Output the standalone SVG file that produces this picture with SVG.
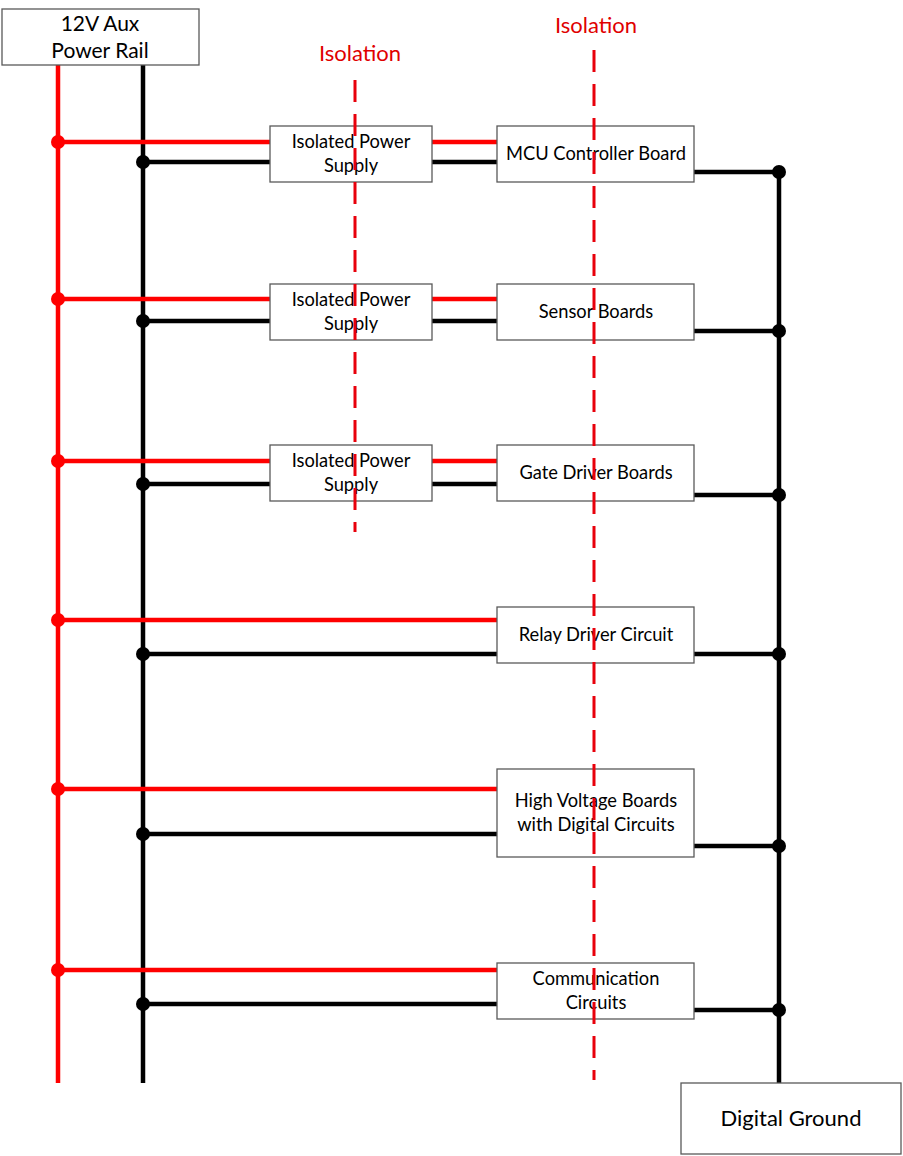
<svg xmlns="http://www.w3.org/2000/svg" width="903" height="1156" viewBox="0 0 903 1156">
<style>
.box{fill:#fff;stroke:#595959;stroke-width:1.3}
.t{font-family:Lato,"Liberation Sans",sans-serif;font-size:18.3px;fill:#000;text-anchor:middle}
.tb{font-family:Lato,"Liberation Sans",sans-serif;font-size:21px;fill:#000;text-anchor:middle}
.tg{font-family:Lato,"Liberation Sans",sans-serif;font-size:22px;fill:#000;text-anchor:middle}
.iso{font-family:Lato,"Liberation Sans",sans-serif;font-size:22px;fill:#e00000;text-anchor:middle}
.r{stroke:#ff0000;stroke-width:4.5;fill:none}
.k{stroke:#000;stroke-width:4.5;fill:none}
.dr{fill:#ff0000}
.dk{fill:#000}
.dash{stroke:#e8000b;stroke-width:3;stroke-dasharray:22 12;fill:none}
</style>
<rect width="903" height="1156" fill="#fff"/>
<g id="connectors">
<line class="r" x1="58" y1="65" x2="58" y2="1083"/>
<line class="k" x1="143" y1="65" x2="143" y2="1083"/>
<line class="k" x1="779" y1="172" x2="779" y2="1083"/>
<line class="r" x1="58" y1="142" x2="270" y2="142"/>
<line class="k" x1="143" y1="162" x2="270" y2="162"/>
<line class="r" x1="432" y1="142" x2="497" y2="142"/>
<line class="k" x1="432" y1="162" x2="497" y2="162"/>
<line class="k" x1="694" y1="172" x2="779" y2="172"/>
<line class="r" x1="58" y1="299" x2="270" y2="299"/>
<line class="k" x1="143" y1="321" x2="270" y2="321"/>
<line class="r" x1="432" y1="299" x2="497" y2="299"/>
<line class="k" x1="432" y1="321" x2="497" y2="321"/>
<line class="k" x1="694" y1="331" x2="779" y2="331"/>
<line class="r" x1="58" y1="461" x2="270" y2="461"/>
<line class="k" x1="143" y1="484" x2="270" y2="484"/>
<line class="r" x1="432" y1="461" x2="497" y2="461"/>
<line class="k" x1="432" y1="484" x2="497" y2="484"/>
<line class="k" x1="694" y1="495" x2="779" y2="495"/>
<line class="r" x1="58" y1="620" x2="497" y2="620"/>
<line class="k" x1="143" y1="654" x2="497" y2="654"/>
<line class="k" x1="694" y1="654" x2="779" y2="654"/>
<line class="r" x1="58" y1="789" x2="497" y2="789"/>
<line class="k" x1="143" y1="834" x2="497" y2="834"/>
<line class="k" x1="694" y1="846" x2="779" y2="846"/>
<line class="r" x1="58" y1="970" x2="497" y2="970"/>
<line class="k" x1="143" y1="1004" x2="497" y2="1004"/>
<line class="k" x1="694" y1="1010" x2="779" y2="1010"/>
<circle class="dr" cx="58" cy="142" r="7"/>
<circle class="dr" cx="58" cy="299" r="7"/>
<circle class="dr" cx="58" cy="461" r="7"/>
<circle class="dr" cx="58" cy="620" r="7"/>
<circle class="dr" cx="58" cy="789" r="7"/>
<circle class="dr" cx="58" cy="970" r="7"/>
<circle class="dk" cx="143" cy="162" r="7"/>
<circle class="dk" cx="143" cy="321" r="7"/>
<circle class="dk" cx="143" cy="484" r="7"/>
<circle class="dk" cx="143" cy="654" r="7"/>
<circle class="dk" cx="143" cy="834" r="7"/>
<circle class="dk" cx="143" cy="1004" r="7"/>
<circle class="dk" cx="779" cy="172" r="7"/>
<circle class="dk" cx="779" cy="331" r="7"/>
<circle class="dk" cx="779" cy="495" r="7"/>
<circle class="dk" cx="779" cy="654" r="7"/>
<circle class="dk" cx="779" cy="846" r="7"/>
<circle class="dk" cx="779" cy="1010" r="7"/>
</g>
<g id="rail"><rect class="box" x="2" y="9" width="197" height="56"/><text class="tb" x="100" y="31">12V Aux</text><text class="tb" x="100" y="58">Power Rail</text></g>
<g id="ips1"><rect class="box" x="270" y="126" width="162" height="56"/><text class="t" x="351" y="148">Isolated Power</text><text class="t" x="351" y="172">Supply</text></g>
<g id="ips2"><rect class="box" x="270" y="284" width="162" height="56"/><text class="t" x="351" y="306">Isolated Power</text><text class="t" x="351" y="330">Supply</text></g>
<g id="ips3"><rect class="box" x="270" y="445" width="162" height="56"/><text class="t" x="351" y="467">Isolated Power</text><text class="t" x="351" y="491">Supply</text></g>
<g id="mcu"><rect class="box" x="497" y="126" width="197" height="56"/><text class="t" x="596" y="160">MCU Controller Board</text></g>
<g id="sensor"><rect class="box" x="497" y="284" width="197" height="56"/><text class="t" x="596" y="318">Sensor Boards</text></g>
<g id="gate"><rect class="box" x="497" y="445" width="197" height="56"/><text class="t" x="596" y="479">Gate Driver Boards</text></g>
<g id="relay"><rect class="box" x="497" y="607" width="197" height="56"/><text class="t" x="596" y="641">Relay Driver Circuit</text></g>
<g id="hv"><rect class="box" x="497" y="769" width="197" height="88"/><text class="t" x="596" y="807">High Voltage Boards</text><text class="t" x="596" y="831">with Digital Circuits</text></g>
<g id="comm"><rect class="box" x="497" y="963" width="197" height="56"/><text class="t" x="596" y="985">Communication</text><text class="t" x="596" y="1009">Circuits</text></g>
<g id="ground"><rect class="box" x="681" y="1083" width="220" height="71"/><text class="tg" x="791" y="1126">Digital Ground</text></g>
<g id="isolation1"><text class="iso" x="360" y="61">Isolation</text><line class="dash" x1="355" y1="80" x2="355" y2="532"/></g>
<g id="isolation2"><text class="iso" x="596" y="33">Isolation</text><line class="dash" x1="594" y1="50" x2="594" y2="1080"/></g>
</svg>
